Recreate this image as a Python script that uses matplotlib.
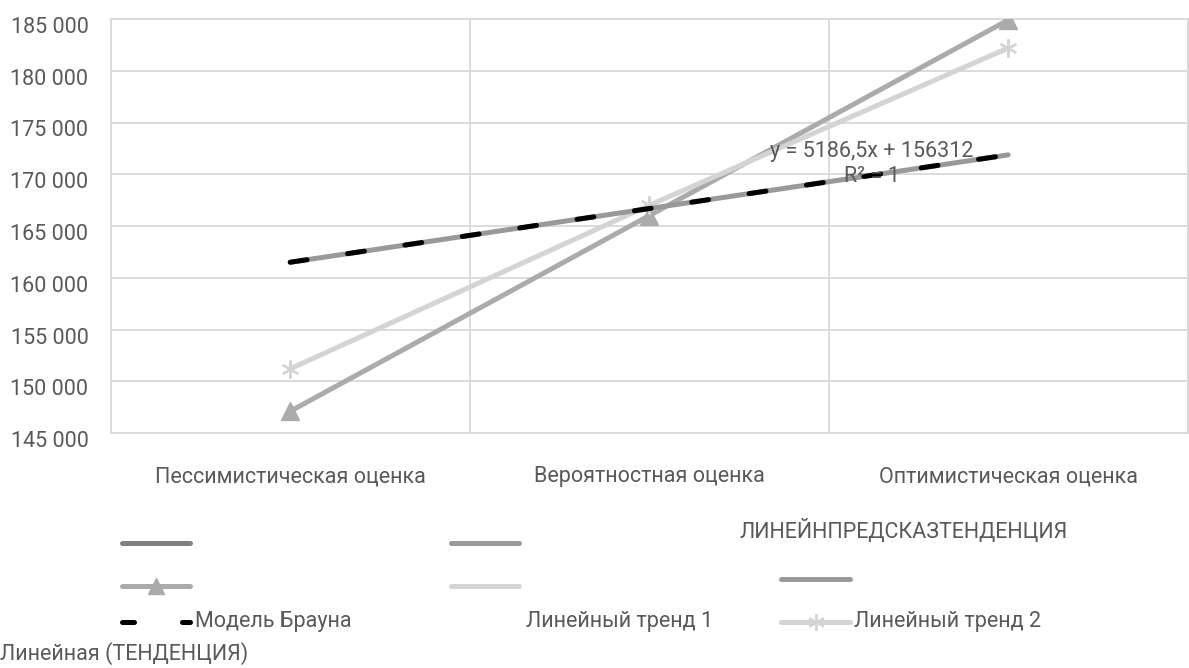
import numpy as np
import matplotlib
matplotlib.use("Agg")
import matplotlib.pyplot as plt
from matplotlib.lines import Line2D
from matplotlib.ticker import FuncFormatter, MultipleLocator
import matplotlib.transforms as mtransforms

# --- data -------------------------------------------------------------
categories = ["Пессимистическая оценка", "Вероятностная оценка", "Оптимистическая оценка"]
trend1 = [147100, 166000, 184900]          # Линейный тренд 1
trend2 = [151200, 167000, 182200]          # Линейный тренд 2
brown = [161498.5, 166685, 171871.5]       # Модель Брауна
slope, intercept = 5186.5, 156312          # linear trend of the Brown model

FONT = "Roboto"
TXT = "#595959"
GRID = "#d9d9d9"
C_DARK = "#808080"
C_MID = "#999999"
C_T1 = "#ababab"
C_T2 = "#d4d4d4"

W, H = 1189, 668
fig = plt.figure(figsize=(W / 100, H / 100), dpi=100)
plt.rcParams["font.family"] = [FONT, "DejaVu Sans"]

ax = fig.add_axes([110.7 / W, 1 - 433 / H, 1077 / W, 414 / H])
x = np.arange(len(categories)) + 0.5
idx = np.arange(1, len(categories) + 1)

ax.set_xlim(0, len(categories))
ax.set_ylim(145000, 185000)
ax.yaxis.set_major_locator(MultipleLocator(5000))
ax.yaxis.set_major_formatter(FuncFormatter(lambda v, p: f"{int(v):,}".replace(",", " ")))
ax.set_xticks(x)
ax.set_xticklabels(categories)
ax.set_xticks(np.arange(len(categories) + 1), minor=True)
ax.grid(True, which="major", axis="y", color=GRID, lw=1.3)
ax.grid(True, which="minor", axis="x", color=GRID, lw=1.3)
ax.tick_params(which="both", length=0)
ax.tick_params(axis="y", pad=16, labelsize=15.5, labelcolor=TXT)
ax.tick_params(axis="x", pad=24, labelsize=15.5, labelcolor=TXT)
for lab in ax.get_yticklabels():
    lab.set_transform(lab.get_transform() + mtransforms.ScaledTranslation(0, -6 / 100, fig.dpi_scale_trans))
for s in ax.spines.values():
    s.set_color(GRID)
    s.set_linewidth(1.3)
ax.set_axisbelow(True)

# series
ax.plot(x, trend1, color=C_T1, lw=3.6, marker="^", ms=13, mfc=C_T1, mec=C_T1,
        solid_capstyle="round", zorder=3)
ax.plot(x, trend2, color=C_T2, lw=3.6, marker=(6, 2, 0), ms=13, mec=C_T2, mew=1.6,
        solid_capstyle="round", zorder=3)
ax.plot(x, slope * idx + intercept, color=C_MID, lw=3.6, solid_capstyle="round", zorder=4)
ax.plot(x, brown, color="black", lw=3.6, linestyle=(0, (3.4, 8.2)),
        dash_capstyle="round", zorder=5)

ax.text(x[1] + 0.62, slope * 2.55 + intercept + 1500,
        f"y = {str(slope).replace('.', ',')}x + {intercept}\nR² = 1",
        ha="center", va="center", fontsize=15.5, color=TXT, linespacing=1.25, zorder=6)


# --- legend, laid out in pixel coordinates ------------------------------
def fx(px):
    return px / W


def fy(py):
    return 1 - py / H


def sym(x0, x1, y, color, **kw):
    fig.add_artist(Line2D([fx(x0), fx(x1)], [fy(y), fy(y)], color=color, lw=3.6,
                          solid_capstyle="round", **kw))


def label(xp, yp, s):
    fig.text(fx(xp), fy(yp), s, ha="left", va="center", fontsize=15.5, color=TXT)


ROW1, ROW2, ROW3, ROW4 = 543, 586, 622, 654

sym(122, 190, ROW1, C_DARK)
sym(451, 519, ROW1, C_MID)
label(740, 531, "ЛИНЕЙНПРЕДСКАЗТЕНДЕНЦИЯ")

sym(122, 190, ROW2, C_T1)
fig.add_artist(Line2D([fx(156)], [fy(ROW2)], color=C_T1, marker="^", ms=12, lw=0))
sym(451, 519, ROW2, C_T2)
sym(781, 850, 579, C_MID)

fig.add_artist(Line2D([fx(122), fx(190)], [fy(ROW3), fy(ROW3)], color="black", lw=3.6,
                      linestyle=(0, (2.4, 9.6)), dash_capstyle="round"))
label(195, ROW3, "Модель Брауна")
label(526, ROW3, "Линейный тренд 1")
sym(781, 850, ROW3, C_T2)
fig.add_artist(Line2D([fx(816)], [fy(ROW3)], color=C_T2, marker=(6, 2, 0), ms=12, mew=1.4, lw=0))
label(854, ROW3, "Линейный тренд 2")
label(0, ROW4, "Линейная (ТЕНДЕНЦИЯ)")

fig.savefig("out.png", dpi=100)
